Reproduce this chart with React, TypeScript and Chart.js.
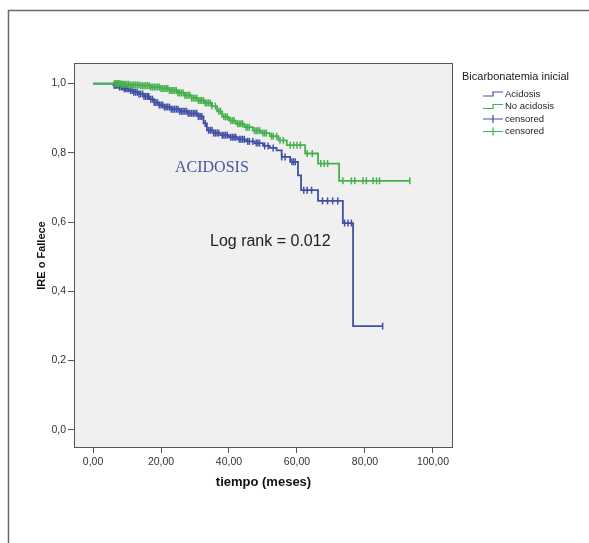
import React, { useEffect, useRef } from 'react';
import { Chart, registerables } from 'chart.js';

Chart.register(...registerables);

// ---- Data ----
const acidosisTimes = [0, 6, 7.5, 9, 10.5, 12, 13.5, 15, 16.5, 18, 19.5, 21, 23, 25.5, 28, 31, 32.5, 33.5, 35.5, 37.5, 40, 42.5, 45, 47.5, 50, 52, 54, 55.5, 58, 60.3, 61.2, 66.2, 73.5, 76.5, 85.2];
const acidosisSurvival = [1, 0.995, 0.99, 0.985, 0.98, 0.975, 0.97, 0.963, 0.955, 0.945, 0.938, 0.932, 0.926, 0.92, 0.914, 0.905, 0.885, 0.865, 0.857, 0.851, 0.845, 0.839, 0.833, 0.828, 0.82, 0.814, 0.807, 0.788, 0.774, 0.735, 0.692, 0.661, 0.597, 0.299, 0.299];
const acidosisCensored = [6.2, 6.6, 7, 7.4, 7.8, 8.3, 8.7, 9.2, 9.5, 10, 10.4, 11, 11.5, 12, 12.5, 13, 13.5, 14, 14.6, 15, 15.5, 16, 16.4, 17, 17.5, 18, 18.5, 19, 19.5, 20, 20.5, 21, 21.5, 22, 22.5, 23, 23.5, 24, 24.5, 25, 25.5, 26, 26.5, 27, 27.5, 28, 28.5, 29, 29.5, 30, 30.5, 31, 31.5, 32, 33, 34, 34.5, 35, 35.5, 36, 36.5, 37, 38, 38.5, 39, 39.5, 40.5, 41, 41.5, 42, 43, 43.5, 44, 44.5, 45.5, 46, 47, 48, 48.5, 49, 50.5, 51.5, 53, 55.5, 56.5, 58.5, 59, 59.5, 62, 63, 64.3, 67.5, 69, 70.5, 72, 74, 75, 76, 85.2];

const noAcidosisTimes = [0, 8, 11, 14, 17, 20, 22.5, 25, 27, 29, 31, 33, 35, 36.5, 38, 40, 42, 44.5, 47, 49.5, 52, 54.5, 57, 62.4, 66.2, 72.4, 93.2];
const noAcidosisSurvival = [1, 0.998, 0.996, 0.994, 0.99, 0.986, 0.98, 0.973, 0.966, 0.958, 0.951, 0.944, 0.935, 0.92, 0.904, 0.893, 0.884, 0.874, 0.864, 0.857, 0.848, 0.836, 0.822, 0.798, 0.769, 0.719, 0.719];
const noAcidosisCensored = [6.3, 6.7, 7.1, 7.5, 7.9, 8.3, 8.7, 9.1, 9.5, 10, 10.5, 11, 11.5, 12, 12.5, 13, 13.5, 14, 14.5, 15, 15.5, 16, 16.5, 17, 17.5, 18, 18.5, 19, 19.5, 20, 20.5, 21, 21.5, 22, 22.5, 23, 23.5, 24, 24.5, 25, 25.5, 26, 26.5, 27, 27.5, 28, 28.5, 29, 29.5, 30, 30.5, 31, 31.5, 32, 32.5, 33, 33.5, 34, 34.5, 35, 36, 37, 37.5, 38.5, 39, 39.5, 40.5, 41, 41.5, 42.5, 43, 43.5, 44, 45, 45.5, 46, 47.5, 48, 48.5, 49, 50, 50.5, 51, 52.5, 53, 54, 55, 56, 58, 59, 60, 61, 63, 64.5, 67, 68, 69, 73.5, 76, 77, 79.4, 80.4, 82.4, 83.4, 84.3, 93.2];

const xTicks = [0, 20, 40, 60, 80, 100];
const yTicks = [0, 0.2, 0.4, 0.6, 0.8, 1.0];

const legendTitle = 'Bicarbonatemia inicial';
const legendLabels = ['Acidosis', 'No acidosis', 'censored', 'censored'];
const xTitle = 'tiempo (meses)';
const yTitle = 'IRE o Fallece';
const groupNote = 'ACIDOSIS';
const logRankNote = 'Log rank = 0.012';

const BLUE = '#4150a6';
const GREEN = '#45b04c';
const SANS = '"Liberation Sans", Arial, sans-serif';

function survivalAt(times: number[], surv: number[], t: number) {
  let v = surv[0];
  for (let i = 0; i < times.length; i++) {
    if (times[i] <= t) v = surv[i];
  }
  return v;
}

const decor = {
  id: 'decor',
  beforeDraw(chart: any) {
    const { ctx, chartArea: a } = chart;
    ctx.save();
    ctx.strokeStyle = '#6a6a6a';
    ctx.lineWidth = 1.5;
    ctx.beginPath();
    ctx.moveTo(8.5, 543);
    ctx.lineTo(8.5, 10.5);
    ctx.lineTo(589, 10.5);
    ctx.stroke();
    ctx.fillStyle = '#f0f0f0';
    ctx.fillRect(a.left, a.top, a.right - a.left, a.bottom - a.top);
    ctx.restore();
  },
  afterDraw(chart: any) {
    const { ctx, chartArea: a } = chart;
    ctx.save();
    ctx.strokeStyle = '#555';
    ctx.lineWidth = 1;
    ctx.strokeRect(a.left + 0.5, a.top + 0.5, a.right - a.left - 1, a.bottom - a.top - 1);

    ctx.fillStyle = '#4a55a2';
    ctx.font = '16px "Liberation Serif", "Times New Roman", serif';
    ctx.textBaseline = 'middle';
    ctx.textAlign = 'left';
    ctx.fillText(groupNote, 175, 168);
    ctx.fillStyle = '#222';
    ctx.font = '16px ' + SANS;
    ctx.fillText(logRankNote, 210, 242);

    ctx.fillStyle = '#222';
    ctx.font = '11px ' + SANS;
    ctx.fillText(legendTitle, 462, 77);
    const ys = [94, 106.5, 119, 131.5];
    const cols = [BLUE, GREEN, BLUE, GREEN];
    ctx.font = '9.5px ' + SANS;
    legendLabels.forEach((lab, i) => {
      const y = ys[i];
      ctx.strokeStyle = cols[i];
      ctx.lineWidth = 1.2;
      ctx.beginPath();
      if (i < 2) {
        ctx.moveTo(483, y + 2);
        ctx.lineTo(493, y + 2);
        ctx.lineTo(493, y - 2);
        ctx.lineTo(503, y - 2);
      } else {
        ctx.moveTo(483, y);
        ctx.lineTo(503, y);
        ctx.moveTo(493, y - 4);
        ctx.lineTo(493, y + 4);
      }
      ctx.stroke();
      ctx.fillStyle = '#222';
      ctx.fillText(lab, 505, y);
    });
    ctx.restore();
  },
};

export default function App() {
  const ref = useRef<HTMLCanvasElement | null>(null);
  useEffect(() => {
    if (!ref.current) return;
    const lineData = (t: number[], s: number[]) => t.map((x, i) => ({ x, y: s[i] }));
    const censData = (c: number[], t: number[], s: number[]) => c.map((x) => ({ x, y: survivalAt(t, s, x) }));
    const chart = new Chart(ref.current, {
      type: 'line',
      data: {
        datasets: [
          {
            label: 'censored',
            data: censData(noAcidosisCensored, noAcidosisTimes, noAcidosisSurvival),
            showLine: false,
            pointStyle: 'line',
            rotation: 90,
            pointRadius: 3.5,
            borderColor: GREEN,
            borderWidth: 1.5,
          } as any,
          {
            label: 'No acidosis',
            data: lineData(noAcidosisTimes, noAcidosisSurvival),
            stepped: true,
            borderColor: GREEN,
            borderWidth: 1.8,
            pointRadius: 0,
            fill: false,
          },
          {
            label: 'censored',
            data: censData(acidosisCensored, acidosisTimes, acidosisSurvival),
            showLine: false,
            pointStyle: 'line',
            rotation: 90,
            pointRadius: 3.5,
            borderColor: BLUE,
            borderWidth: 1.5,
          } as any,
          {
            label: 'Acidosis',
            data: lineData(acidosisTimes, acidosisSurvival),
            stepped: true,
            borderColor: BLUE,
            borderWidth: 1.8,
            pointRadius: 0,
            fill: false,
          },
        ],
      },
      options: {
        responsive: false,
        animation: false,
        layout: { padding: { left: 0, right: 136, top: 63, bottom: 0 } },
        plugins: { legend: { display: false }, tooltip: { enabled: false } },
        scales: {
          x: {
            type: 'linear',
            min: -5.6,
            max: 105.9,
            afterBuildTicks: (s: any) => {
              s.ticks = xTicks.map((v) => ({ value: v }));
            },
            afterFit: (s: any) => {
              s.height = 95;
            },
            grid: { drawOnChartArea: false, drawTicks: true, tickLength: 5, color: '#555' },
            border: { display: false },
            ticks: {
              font: { family: SANS, size: 10.5 },
              color: '#333',
              padding: 3,
              maxRotation: 0,
              autoSkip: false,
              callback: (v: any) => Number(v).toFixed(2).replace('.', ','),
            },
            title: {
              display: true,
              text: xTitle,
              font: { family: SANS, size: 13, weight: 'bold' },
              color: '#111',
              padding: { top: 0, bottom: 53 },
            },
          },
          y: {
            type: 'linear',
            min: -0.053,
            max: 1.0595,
            afterBuildTicks: (s: any) => {
              s.ticks = yTicks.map((v) => ({ value: v }));
            },
            afterFit: (s: any) => {
              s.width = 74;
            },
            grid: { drawOnChartArea: false, drawTicks: true, tickLength: 6, color: '#555' },
            border: { display: false },
            ticks: {
              font: { family: SANS, size: 10.5 },
              color: '#333',
              padding: 2,
              autoSkip: false,
              callback: (v: any) => Number(v).toFixed(1).replace('.', ','),
            },
            title: {
              display: true,
              text: yTitle,
              font: { family: SANS, size: 11, weight: 'bold' },
              color: '#111',
              padding: { top: 35, bottom: 0 },
            },
          },
        },
      },
      plugins: [decor],
    } as any);
    return () => chart.destroy();
  }, []);
  return (
    <div style={{ position: 'fixed', left: 0, top: 0, width: 589, height: 543, background: '#fff' }}>
      <canvas ref={ref} width={589} height={543} style={{ display: 'block' }} />
    </div>
  );
}
